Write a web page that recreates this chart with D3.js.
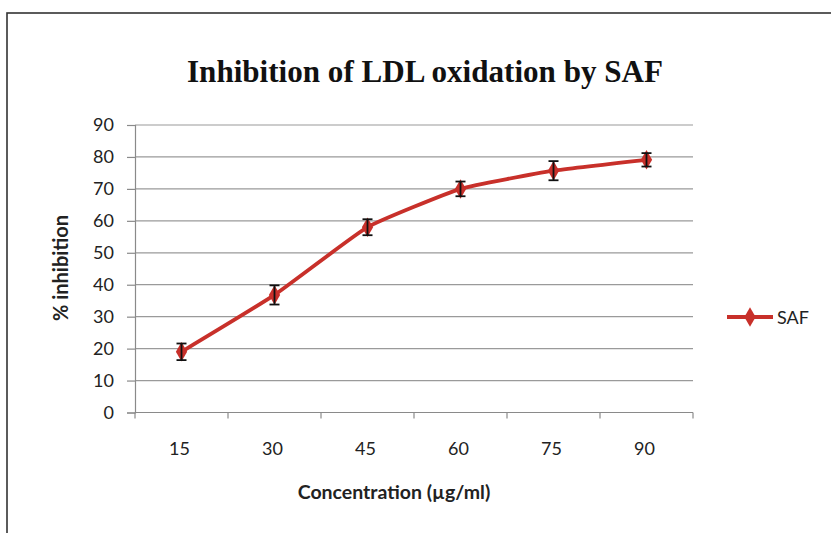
<!DOCTYPE html>
<html>
<head>
<meta charset="utf-8">
<script src="https://cdn.jsdelivr.net/npm/d3@7/dist/d3.min.js"></script>
<style>
    body { margin: 0; background: #fff; }
    svg { display: block; }
</style>
</head>
<body>
<div id="svgcontainer"></div>
<script>
const categories = ["15", "30", "45", "60", "75", "90"]
const inhibition = [19, 36.8, 58, 70, 75.7, 79.1]
const errors = [2.6, 3, 2.5, 2.3, 3, 2.1]
const yTicks = [0, 10, 20, 30, 40, 50, 60, 70, 80, 90]
const seriesName = "SAF"

const WIDTH = 831
const HEIGHT = 533
const LEFT = 135
const RIGHT = 693
const TOP = 125
const BOTTOM = 412.5
const RED = "#c8302a"
const FONT = "Lato, 'Open Sans', sans-serif"

const svg = d3.select("#svgcontainer")
    .append("svg")
    .attr("width", WIDTH)
    .attr("height", HEIGHT)

// outer frame (only top and left edges are visible in the picture)
svg.append("rect")
    .attr("x", 7)
    .attr("y", 13)
    .attr("width", 900)
    .attr("height", 600)
    .attr("fill", "#fff")
    .attr("stroke", "#333")
    .attr("stroke-width", 1.6)

let x = d3.scaleBand()
    .domain(categories)
    .range([LEFT, RIGHT])

let y = d3.scaleLinear()
    .domain([0, 90])
    .range([BOTTOM, TOP])

// gridlines
svg.append("g")
    .selectAll("line")
    .data(yTicks.filter(d => d > 0))
    .join("line")
        .attr("x1", LEFT)
        .attr("x2", RIGHT)
        .attr("y1", d => y(d))
        .attr("y2", d => y(d))
        .attr("stroke", "#9a9a9a")
        .attr("stroke-width", 1.2)

// y axis
let yAxis = svg.append("g")
    .attr("transform", `translate(${LEFT},0)`)
    .call(d3.axisLeft(y).tickValues(yTicks).tickSize(8).tickPadding(13))
yAxis.select(".domain").attr("stroke", "#8a8a8a").attr("stroke-width", 1.2)
yAxis.selectAll(".tick line").attr("stroke", "#8a8a8a").attr("stroke-width", 1.2)
yAxis.selectAll("text")
    .attr("font-family", FONT)
    .attr("font-size", 18)
    .attr("fill", "#222")

// x axis: ticks sit on category boundaries
let xAxis = svg.append("g")
    .attr("transform", `translate(0,${BOTTOM})`)
xAxis.append("line")
    .attr("x1", LEFT)
    .attr("x2", RIGHT)
    .attr("stroke", "#8a8a8a")
    .attr("stroke-width", 1.2)
let bounds = categories.map(c => x(c)).concat([x(categories[categories.length - 1]) + x.bandwidth()])
xAxis.selectAll(".xt")
    .data(bounds)
    .join("line")
        .attr("class", "xt")
        .attr("x1", d => d)
        .attr("x2", d => d)
        .attr("y1", 0)
        .attr("y2", 6)
        .attr("stroke", "#8a8a8a")
        .attr("stroke-width", 1.2)
xAxis.selectAll("text")
    .data(categories)
    .join("text")
        .attr("x", d => x(d) + x.bandwidth() / 2 - 2)
        .attr("y", 42)
        .attr("text-anchor", "middle")
        .attr("font-family", FONT)
        .attr("font-size", 18)
        .attr("fill", "#222")
        .text(d => d)

// series line (smoothed like the spreadsheet chart)
let points = categories.map((c, i) => ({ cat: c, value: inhibition[i], err: errors[i] }))
let cx = d => x(d.cat) + x.bandwidth() / 2

svg.append("path")
    .datum(points)
    .attr("d", d3.line().x(cx).y(d => y(d.value)).curve(d3.curveCardinal.tension(0.6)))
    .attr("fill", "none")
    .attr("stroke", RED)
    .attr("stroke-width", 3.8)

let diamond = d3.symbol().type(d3.symbolDiamond).size(110)

svg.append("g")
    .selectAll("path")
    .data(points)
    .join("path")
        .attr("transform", d => `translate(${cx(d)},${y(d.value)})`)
        .attr("d", diamond)
        .attr("fill", RED)

// error bars
let errs = svg.append("g")
    .attr("stroke", "#111")
    .attr("stroke-width", 1.8)
errs.selectAll(".v")
    .data(points)
    .join("line")
        .attr("x1", cx)
        .attr("x2", cx)
        .attr("y1", d => y(d.value - d.err))
        .attr("y2", d => y(d.value + d.err))
errs.selectAll(".top")
    .data(points)
    .join("line")
        .attr("class", "top")
        .attr("x1", d => cx(d) - 5)
        .attr("x2", d => cx(d) + 5)
        .attr("y1", d => y(d.value + d.err))
        .attr("y2", d => y(d.value + d.err))
errs.selectAll(".bot")
    .data(points)
    .join("line")
        .attr("class", "bot")
        .attr("x1", d => cx(d) - 5)
        .attr("x2", d => cx(d) + 5)
        .attr("y1", d => y(d.value - d.err))
        .attr("y2", d => y(d.value - d.err))

// title
svg.append("text")
    .attr("x", 425)
    .attr("y", 82)
    .attr("text-anchor", "middle")
    .attr("font-family", "'Liberation Serif', 'Times New Roman', serif")
    .attr("font-weight", "bold")
    .attr("font-size", 31)
    .attr("textLength", 476)
    .attr("lengthAdjust", "spacingAndGlyphs")
    .attr("fill", "#111")
    .text("Inhibition of LDL oxidation by SAF")

// axis titles
svg.append("text")
    .attr("x", 394)
    .attr("y", 499)
    .attr("text-anchor", "middle")
    .attr("font-family", FONT)
    .attr("font-weight", "bold")
    .attr("font-size", 19.5)
    .attr("fill", "#222")
    .text("Concentration (µg/ml)")

svg.append("text")
    .attr("transform", "translate(68,268) rotate(-90)")
    .attr("text-anchor", "middle")
    .attr("font-family", FONT)
    .attr("font-weight", "bold")
    .attr("font-size", 20)
    .attr("fill", "#222")
    .text("% inhibition")

// legend
let legend = svg.append("g")
    .attr("transform", "translate(727,317)")
legend.append("line")
    .attr("x1", 0)
    .attr("x2", 46)
    .attr("stroke", RED)
    .attr("stroke-width", 3.8)
legend.append("path")
    .attr("transform", "translate(23,0)")
    .attr("d", diamond)
    .attr("fill", RED)
legend.append("text")
    .attr("x", 50)
    .attr("y", 6.5)
    .attr("font-family", FONT)
    .attr("font-size", 18)
    .attr("fill", "#222")
    .text(seriesName)
</script>
</body>
</html>
